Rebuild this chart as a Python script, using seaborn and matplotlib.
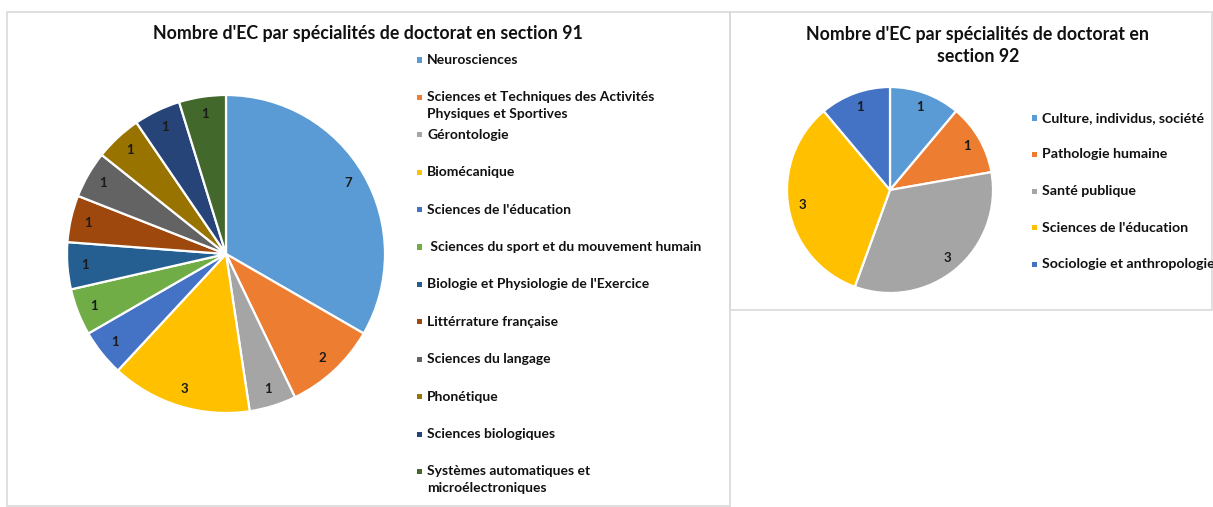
import matplotlib
matplotlib.use("Agg")
import matplotlib.pyplot as plt
from matplotlib.patches import Rectangle
import seaborn as sns

sns.set_theme(style="white")
plt.rcParams['font.family'] = ['Lato', 'DejaVu Sans']

# ---------------- data ----------------
title_91 = "Nombre d'EC par spécialités de doctorat en section 91"
spec_91 = [
    "Neurosciences",
    "Sciences et Techniques des Activités\nPhysiques et Sportives",
    "Gérontologie",
    "Biomécanique",
    "Sciences de l'éducation",
    " Sciences du sport et du mouvement humain",
    "Biologie et Physiologie de l'Exercice",
    "Littérrature française",
    "Sciences du langage",
    "Phonétique",
    "Sciences biologiques",
    "Systèmes automatiques et\nmicroélectroniques",
]
counts_91 = [7, 2, 1, 3, 1, 1, 1, 1, 1, 1, 1, 1]

title_92 = "Nombre d'EC par spécialités de doctorat en\nsection 92"
spec_92 = [
    "Culture, individus, société",
    "Pathologie humaine",
    "Santé publique",
    "Sciences de l'éducation",
    "Sociologie et anthropologie",
]
counts_92 = [1, 1, 3, 3, 1]

office_colors = ["#5B9BD5", "#ED7D31", "#A5A5A5", "#FFC000", "#4472C4", "#70AD47",
                 "#255E91", "#9E480E", "#636363", "#997300", "#264478", "#43682B"]
palette = sns.color_palette(office_colors)

# ---------------- figure ----------------
W, H = 1213, 507
fig = plt.figure(figsize=(W / 100, H / 100), dpi=100)
fig.patch.set_facecolor("white")


def fx(x):
    return x / W


def fy(y):
    return 1 - y / H


def frame(x0, y0, x1, y1):
    fig.patches.append(Rectangle((fx(x0), fy(y1)), fx(x1) - fx(x0), fy(y0) - fy(y1),
                                 transform=fig.transFigure, fill=False,
                                 edgecolor="#d9d9d9", linewidth=1.2))


frame(7, 12, 730, 506)
frame(730, 12, 1212, 310)


def draw_pie(values, colors, x0, y0, size, pctd, fs):
    ax = fig.add_axes([fx(x0), fy(y0 + size), size / W, size / H])
    total = sum(values)
    ax.pie(values, colors=colors, startangle=90, counterclock=False,
           autopct=lambda p: f"{p * total / 100:.0f}", pctdistance=pctd,
           wedgeprops=dict(edgecolor="white", linewidth=1.6),
           textprops=dict(fontsize=fs, fontweight="bold", color="#1a1a1a"))
    ax.set_xlim(-1.0, 1.0)
    ax.set_ylim(-1.0, 1.0)
    ax.axis("off")
    return ax


def draw_legend(labels, colors, xm, y_first, step, fs):
    for i, (lab, c) in enumerate(zip(labels, colors)):
        y = y_first + i * step
        fig.patches.append(Rectangle((fx(xm - 2.5), fy(y + 2.5)), 5 / W, 5 / H,
                                     transform=fig.transFigure, facecolor=c,
                                     edgecolor="none"))
        fig.text(fx(xm + 8), fy(y - 6), lab, ha="left", va="top", fontsize=fs,
                 fontweight="bold", color="#111111", linespacing=1.5)


# Section 91
fig.text(fx(368), fy(33), title_91, ha="center", va="center", fontsize=12.8,
         fontweight="bold", color="#111111")
draw_pie(counts_91, palette[:len(counts_91)], 67, 95, 318, 0.89, 9.5)
draw_legend(spec_91, palette[:len(spec_91)], 419, 60, 37.4, 10)

# Section 92
fig.text(fx(978), fy(45.5), title_92, ha="center", va="center", fontsize=12.8,
         fontweight="bold", color="#111111", linespacing=1.35)
draw_pie(counts_92, palette[:len(counts_92)], 787, 87, 206, 0.86, 9.5)
draw_legend(spec_92, palette[:len(spec_92)], 1034, 118, 36.5, 10.2)

fig.savefig("out.png", dpi=100, facecolor="white")
